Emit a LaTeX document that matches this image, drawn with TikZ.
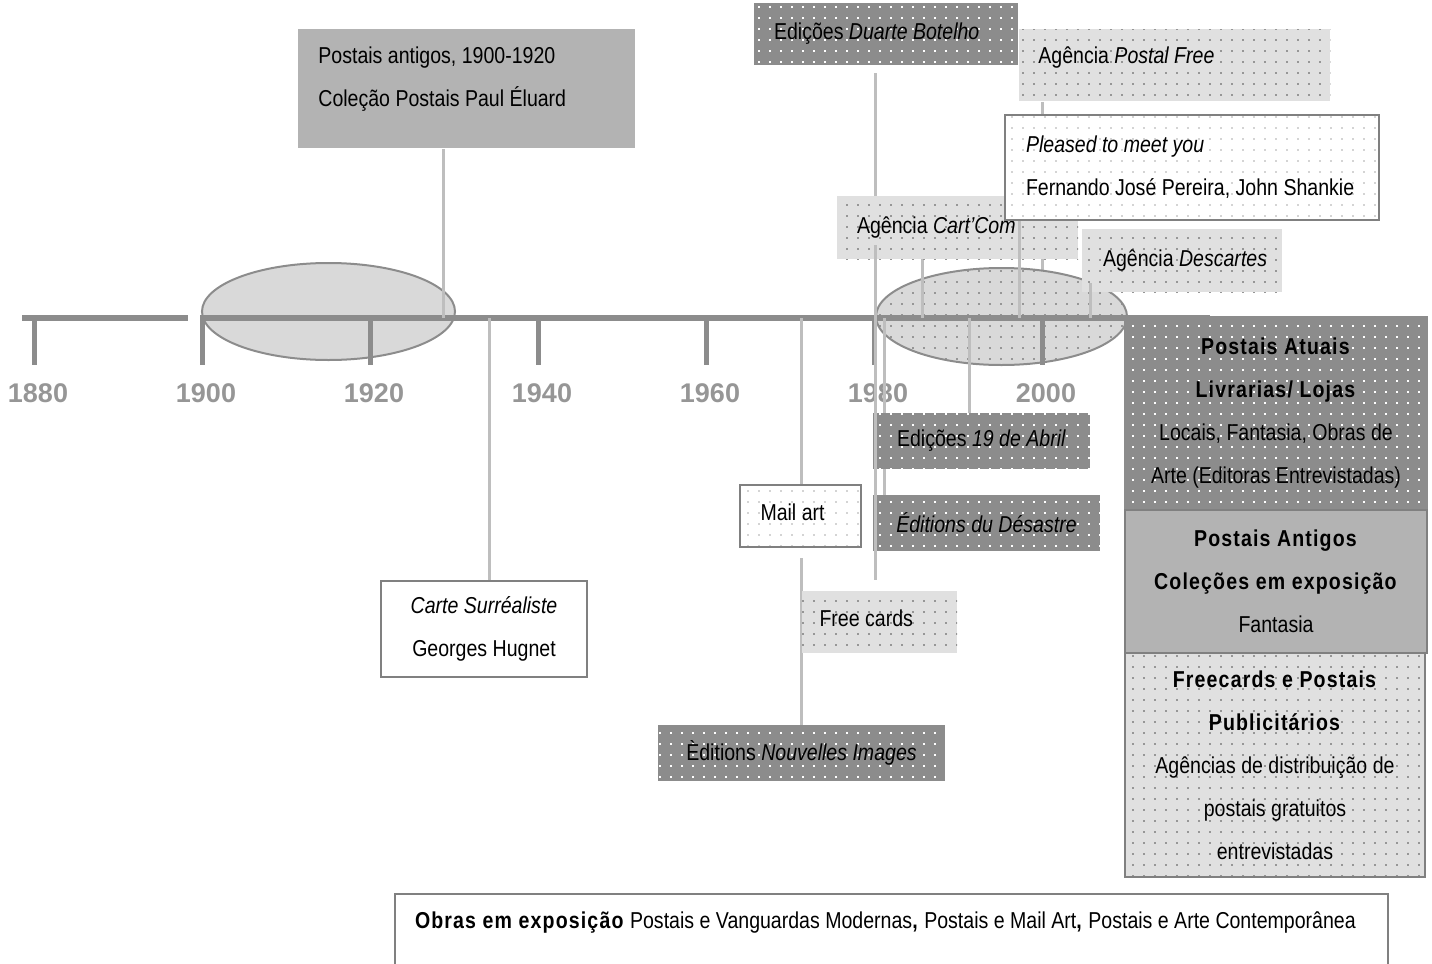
\documentclass[tikz,border=0pt]{standalone}
\usepackage{fontspec}
\setmainfont{Liberation Sans}[FakeStretch=0.85, BoldFeatures={LetterSpace=5}]
\newfontfamily\yearfont{Liberation Sans}
\usetikzlibrary{patterns.meta,backgrounds}
\definecolor{tldark}{RGB}{140,140,140}
\definecolor{tlmid}{RGB}{179,179,179}
\definecolor{tllight}{RGB}{224,224,224}
\definecolor{tlellipse}{RGB}{217,217,217}
\definecolor{tldotgray}{RGB}{150,150,150}
\definecolor{tldotlight}{RGB}{212,212,212}
\definecolor{tlborder}{RGB}{128,128,128}
\definecolor{tlconn}{RGB}{190,190,190}
\definecolor{tlyear}{RGB}{150,150,150}
\def\tlfont{\fontsize{11.5}{21.5}\selectfont}
\tikzdeclarepattern{
  name=tldots,
  type=uncolored,
  bounding box={(-2.75pt,-2.75pt) and (2.75pt,2.75pt)},
  tile size={(5.5pt,5.5pt)},
  code={\fill (-0.5pt,-0.5pt) rectangle (0.5pt,0.5pt);}
}

\begin{document}
\begin{tikzpicture}[x=0.5pt, y=-0.5pt,
          tl/.style = {shape=rectangle, inner sep=0pt, align=center, font=\tlfont},
          darkbox/.style = {tl, preaction={fill=tldark}, pattern=tldots, pattern color=white},
          lightbox/.style = {tl, preaction={fill=tllight}, pattern=tldots, pattern color=tldotgray},
          whitebox/.style = {tl, draw=tlborder, line width=1pt, preaction={fill=white},
            pattern=tldots, pattern color=tldotlight},
          graybox/.style = {tl, fill=tlmid},
          conn/.style = {draw=tlconn, line width=1.5pt},
          axis/.style = {draw=tldark, line width=3pt},
          tick/.style = {draw=tldark, line width=2.5pt},
          year/.style = {font=\yearfont\bfseries\fontsize{13.5}{13.5}\selectfont, text=tlyear}
          ]
  \useasboundingbox (0,0) rectangle (1432,964);

  % points on the time axis
  \coordinate (cPA) at (443,318);
  \coordinate (cCS) at (489,318);
  \coordinate (cMA) at (801,318);
  \coordinate (cDB) at (875,318);
  \coordinate (cED) at (884,318);
  \coordinate (cCC) at (922,318);
  \coordinate (cAB) at (969,318);
  \coordinate (cPM) at (1019,318);
  \coordinate (cPF) at (1042,318);
  \coordinate (cDC) at (1090,318);

  % boxes
  \node[graybox, anchor=north west, text width=148.5pt, inner xsep=10pt, align=flush left,
        text height=17pt, text depth=42.5pt] (postant) at (298,29)
        {Postais antigos, 1900-1920\\Coleção Postais Paul Éluard};
  \node[tl, draw=tlborder, line width=1pt, fill=white, minimum width=103pt,
        minimum height=48pt] (carte) at (484,629) {\textit{Carte Surréaliste}\\Georges Hugnet};
  \node[darkbox, minimum width=132pt, minimum height=31pt, text width=112pt, align=flush left,
        yshift=1pt] (botelho) at (886,36) {Edições \textit{Duarte Botelho}};
  \node[lightbox, anchor=north west, text width=136.5pt, inner xsep=9.5pt, align=flush left,
        text height=17pt, text depth=19pt] (postalfree) at (1019,29) {Agência \textit{Postal Free}};
  \node[lightbox, minimum width=120.5pt, minimum height=31.5pt, text width=100.5pt, align=flush left]
        (cartcom) at (957.5,227.5) {\mbox{Agência \textit{Cart'Com}}};
  \node[whitebox, minimum width=187pt, minimum height=52.5pt, text width=166pt, align=flush left]
        (pleased) at (1192,167.5)
        {\textit{Pleased to meet you}\\\mbox{Fernando José Pereira, John Shankie}};
  \node[lightbox, minimum width=100pt, minimum height=31.5pt, text width=79pt, align=flush left]
        (descartes) at (1182,260.5) {\mbox{Agência \textit{Descartes}}};
  \node[darkbox, minimum width=108.5pt, minimum height=28pt] (abril) at (981.5,441)
        {Edições \textit{19 de Abril}};
  \node[darkbox, minimum width=113.5pt, minimum height=28pt] (desastre) at (986.5,523)
        {\textit{Éditions du Désastre}};
  \node[whitebox, minimum width=60.5pt, minimum height=31pt, text width=40pt, align=flush left,
        text height=9pt, text depth=4.5pt] (mailart) at (800.5,516) {Mail art};
  \node[lightbox, minimum width=77.5pt, minimum height=31pt, text width=60pt, align=flush left,
        text height=9pt, text depth=4.5pt] (freecards) at (879.5,622) {Free cards};
  \node[darkbox, minimum width=143.5pt, minimum height=28pt] (nouvelles) at (801.5,753)
        {Èditions \textit{Nouvelles Images}};
  \node[darkbox, draw=tldark, line width=1pt, minimum width=151pt, minimum height=96.5pt]
        (atuais) at (1276,413.5)
        {\textbf{Postais Atuais}\\\textbf{Livrarias/ Lojas}\\Locais, Fantasia, Obras de\\Arte (Editoras Entrevistadas)};
  \node[graybox, draw=tlborder, line width=1pt, minimum width=151pt, minimum height=71.5pt]
        (antigos) at (1276,581.5)
        {\textbf{Postais Antigos}\\\textbf{Coleções em exposição}\\Fantasia};
  \node[lightbox, draw=tlborder, line width=1pt, minimum width=150pt, minimum height=112pt]
        (fcbox) at (1275,765)
        {\textbf{Freecards e Postais}\\\textbf{Publicitários}\\Agências de distribuição de\\postais gratuitos\\entrevistadas};
  \node[tl, draw=tlborder, line width=1pt, fill=white, anchor=north west, text width=476.5pt,
        inner xsep=10pt, align=flush left, text height=17pt, text depth=40pt]
        (obras) at (394,893)
        {\mbox{\textbf{Obras em exposição} Postais e Vanguardas Modernas\textbf{,} Postais e Mail Art\textbf{,} Postais e Arte Contemporânea}};

  \begin{scope}[on background layer]
    \draw[conn] (postalfree.south -| cPF) -- (cPF);
    % periods
    \draw[draw=tldark, line width=1pt, fill=tlellipse] (328.5,311.5) ellipse [x radius=63.25pt, y radius=24.25pt];
    \draw[draw=tldark, line width=1pt, preaction={fill=tlellipse}, pattern=tldots,
          pattern color=tldotgray] (1001.5,316.5) ellipse [x radius=62.75pt, y radius=24.25pt];
    % time axis
    \draw[axis] (22,318) -- (188,318);
    \draw[axis] (200,318) -- (1210,318);
    \foreach \yr [count=\i from 0] in {1880,1900,...,2000} {
      \draw[tick] (34+168*\i,318) -- (34+168*\i,365);
      \node[year] (y\yr) at (38+168*\i,393) {\yr};
    }
    \draw[conn, shorten <=4pt] (botelho.south -| cDB) -- (cartcom.north -| cDB);
    \draw[conn] (cED) -- (desastre.north -| cED);
    \draw[conn] (cMA) -- (mailart.north -| cMA);
    \draw[conn, shorten <=5pt] (mailart.south -| cMA) -- (nouvelles.north -| cMA);
    \draw[conn] (cCS) -- (carte.north -| cCS);
    \draw[conn] (postant.south -| cPA) -- (cPA);
    \draw[conn] (cartcom.south -| cCC) -- (cCC);
    \draw[conn] (cAB) -- (abril.north -| cAB);
  \end{scope}

  \draw[conn] (pleased.south -| cPM) -- (cPM);
  \draw[conn, shorten <=5.5pt, shorten >=-7pt] (freecards.north -| cDB) -- (cartcom.south -| cDB);
  \draw[conn, shorten <=-4.5pt] (descartes.south -| cDC) -- (cDC);
\end{tikzpicture}
\end{document}
